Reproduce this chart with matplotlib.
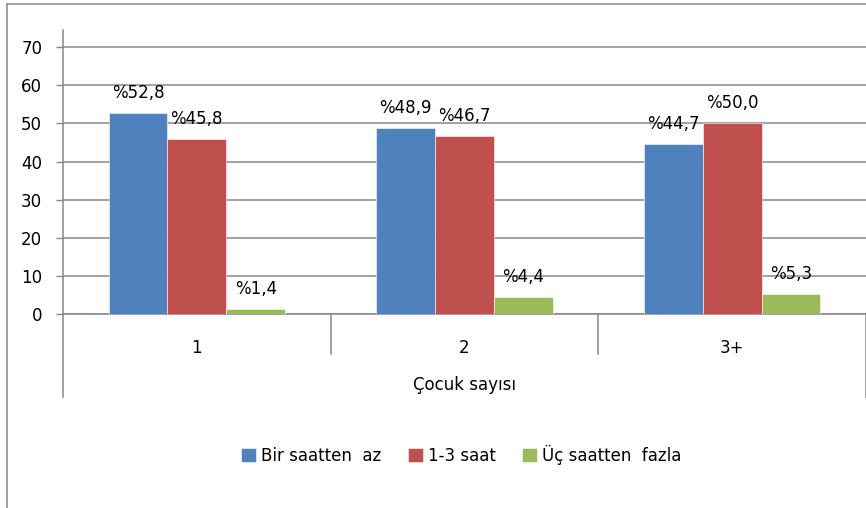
import matplotlib.pyplot as plt
from matplotlib.lines import Line2D
import numpy as np

# Chart data
CATEGORIES = ["1", "2", "3+"]
SERIES_NAMES = ["Bir saatten  az", "1-3 saat", "Üç saatten  fazla"]
BIR_SAATTEN_AZ = [52.8, 48.9, 44.7]
BIR_UC_SAAT = [45.8, 46.7, 50.0]
UC_SAATTEN_FAZLA = [1.4, 4.4, 5.3]
Y_TICKS = [0, 10, 20, 30, 40, 50, 60, 70]
X_TITLE = "Çocuk sayısı"

COLORS = ["#4F81BD", "#C0504D", "#9BBB59"]
GRID = "#878787"
W, H = 866, 508
FS = 12

plt.rcParams["font.family"] = ["DejaVu Sans"]
plt.rcParams["font.size"] = FS

fig = plt.figure(figsize=(W / 100, H / 100), dpi=100)
# plot area: x 63..866 px, y 30..314 px (from top)
ax = fig.add_axes([63 / W, (H - 314) / H, (866 - 63) / W, (314 - 30) / H])

x = np.arange(len(CATEGORIES)) + 0.5
bw = 0.22
series = [BIR_SAATTEN_AZ, BIR_UC_SAAT, UC_SAATTEN_FAZLA]
for i, (name, vals) in enumerate(zip(SERIES_NAMES, series)):
    xs = x + (i - 1) * bw
    ax.bar(xs, vals, width=bw, color=COLORS[i], label=name,
           edgecolor="white", linewidth=0.4, zorder=3)
    for bx, v in zip(xs, vals):
        ax.annotate(f"%{v:.1f}".replace(".", ","), (bx, v),
                    xytext=(0, 20), textcoords="offset pixels",
                    ha="center", va="center", fontsize=FS, zorder=4)

ax.set_xlim(0, 3)
ax.set_ylim(0, 74.5)
ax.set_yticks(Y_TICKS)
ax.yaxis.grid(True, color=GRID, linewidth=1.1, zorder=0)
ax.set_axisbelow(True)
ax.tick_params(axis="y", length=5, width=1, color=GRID, pad=10, labelsize=FS)

ax.set_xticks(x)
ax.set_xticklabels(CATEGORIES)
ax.tick_params(axis="x", length=0, pad=18, labelsize=FS)

for s in ["top", "right", "bottom"]:
    ax.spines[s].set_visible(False)
ax.spines["left"].set_color(GRID)
ax.spines["left"].set_linewidth(1.1)

# category dividers below the axis
tr = ax.get_xaxis_transform()
ph = 314 - 30
ax.plot([0, 3], [0, 0], transform=tr, color=GRID, lw=1.1, clip_on=False)
for xd in [1, 2]:
    ax.plot([xd, xd], [0, -(354 - 314) / ph], transform=tr, color=GRID,
            lw=1.1, clip_on=False)
for xd in [0, 3]:
    ax.plot([xd, xd], [0, -(397 - 314) / ph], transform=tr, color=GRID,
            lw=1.1, clip_on=False)
ax.text(1.5, -(385 - 314) / ph, X_TITLE, transform=tr, ha="center",
        va="center", fontsize=FS)

# outer chart border (top and left edges visible)
fig.add_artist(Line2D([7 / W, 1], [1 - 4 / H, 1 - 4 / H], color=GRID, lw=1.1))
fig.add_artist(Line2D([7 / W, 7 / W], [0, 1 - 4 / H], color=GRID, lw=1.1))

ax.legend(loc="center", bbox_to_anchor=(461 / W, 1 - 455 / H),
          bbox_transform=fig.transFigure, ncol=3, frameon=False,
          handlelength=0.9, handleheight=0.9, handletextpad=0.3,
          columnspacing=1.6, fontsize=FS)

fig.savefig("out.png", dpi=100)
